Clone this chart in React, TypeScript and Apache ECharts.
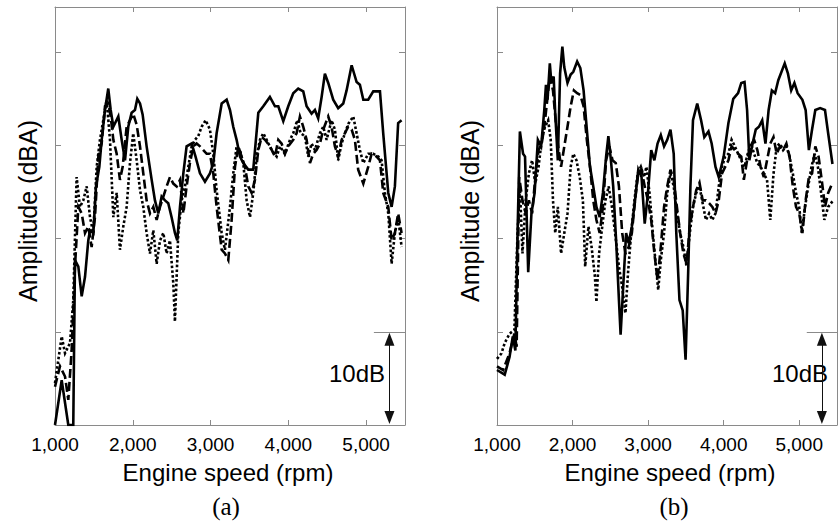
import React, { useEffect, useRef } from "react";
import * as echarts from "echarts";

// ---------- Panel (a) ----------
const aSolidRpm = [1000,1086,1171,1235,1257,1300,1343,1386,1428,1450,1493,1527,1570,1600,1643,1685,1716,1750,1814,1857,1900,1942,1985,2028,2058,2093,2127,2178,2243,2285,2328,2371,2414,2456,2499,2542,2572,2607,2650,2692,2757,2807,2864,2928,2992,3035,3078,3143,3207,3250,3292,3335,3378,3421,3485,3549,3614,3678,3763,3828,3871,3935,3999,4063,4127,4192,4235,4299,4342,4384,4428,4470,4513,4577,4641,4706,4749,4814,4878,4920,4964,5027,5092,5178,5220,5285,5328,5370,5412,5456];
const aSolidDb = [0,4.8,0,0,17.7,17.0,13.8,15.9,19.8,20.9,20.6,25.6,27.7,30.6,33.8,36.1,33.8,32.0,33.1,30.6,28.4,32.0,33.5,33.8,35.0,34.5,33.3,29.9,26.3,24.1,22.7,24.5,24.1,23.8,22.3,20.6,19.8,23.4,27.0,29.9,30.2,28.8,27.0,26.1,27.0,28.1,31.3,34.5,34.9,33.8,32.0,30.6,28.8,28.1,27.4,27.4,33.5,34.2,35.2,34.2,34.2,32.6,34.2,35.6,36.1,35.8,34.2,33.4,33.8,32.9,35.2,37.7,36.7,34.9,34.0,34.5,35.9,38.6,36.8,36.5,34.9,34.9,35.8,35.8,31.3,24.9,23.4,25.6,32.4,32.7];

const aDashRpm = [1000,1064,1129,1171,1214,1257,1300,1343,1386,1428,1471,1514,1557,1600,1643,1685,1716,1750,1793,1835,1870,1921,1964,2006,2050,2093,2135,2178,2221,2264,2307,2350,2393,2435,2478,2521,2564,2607,2650,2692,2735,2778,2821,2864,2907,2950,2992,3035,3078,3143,3185,3228,3271,3314,3357,3400,3442,3485,3528,3571,3614,3657,3700,3764,3828,3871,3914,3956,3999,4063,4106,4149,4192,4235,4278,4320,4363,4406,4449,4513,4556,4599,4641,4685,4727,4770,4814,4856,4898,4964,5027,5071,5135,5178,5220,5285,5328,5370,5412,5456];
const aDashDb = [4.1,6.3,5.2,2.7,8.0,17.0,23.4,22.7,20.6,21.3,19.1,22.3,28.8,30.2,34.2,34.5,33.1,30.6,29.1,26.3,27.7,32.0,32.7,33.4,32.2,29.9,27.0,24.1,22.7,23.4,22.0,23.4,24.5,25.6,26.6,25.9,25.6,26.3,22.7,25.6,28.1,29.9,30.2,29.9,29.5,29.1,29.1,27.0,23.4,18.8,18.4,17.7,22.0,27.7,29.9,28.8,27.7,25.6,24.9,26.3,29.5,30.9,30.6,29.9,28.8,30.6,30.2,29.1,29.9,30.6,31.3,33.1,32.0,30.6,28.1,29.1,29.5,30.2,31.7,33.1,32.0,29.9,28.8,30.6,31.3,32.0,31.7,30.6,27.4,25.9,27.7,29.1,28.8,28.4,24.9,23.4,19.8,20.6,22.7,20.6];

const aDotRpm = [1000,1086,1129,1193,1235,1278,1321,1364,1407,1450,1492,1536,1578,1621,1664,1707,1750,1793,1835,1878,1921,1964,2006,2050,2093,2135,2178,2221,2264,2307,2350,2393,2435,2478,2521,2542,2585,2628,2671,2714,2757,2800,2842,2885,2937,2992,3035,3078,3143,3185,3250,3292,3335,3378,3421,3464,3507,3549,3592,3635,3678,3721,3785,3850,3892,3956,4021,4063,4115,4158,4213,4256,4299,4342,4406,4449,4492,4556,4599,4641,4685,4727,4770,4835,4878,4920,4964,5027,5092,5157,5199,5242,5285,5328,5370,5412,5456];
const aDotDb = [4.5,9.5,7.7,8.8,13.4,26.6,23.4,24.1,25.6,22.3,20.6,27.7,30.6,32.7,34.9,30.6,22.3,24.9,18.8,21.3,23.4,28.1,31.3,28.4,25.2,23.4,20.6,18.4,20.9,17.3,19.8,20.6,18.4,19.8,15.2,11.1,20.6,24.1,25.6,27.7,29.9,30.6,31.0,32.0,32.7,31.7,29.1,25.2,20.6,18.8,23.4,27.0,29.9,29.5,28.1,24.1,22.3,24.9,28.8,30.6,31.3,30.6,29.5,28.8,29.9,29.1,30.6,31.3,32.7,31.3,31.0,28.8,30.2,29.5,31.3,32.0,30.6,32.7,31.7,28.4,30.2,31.3,32.3,33.1,31.3,29.5,28.1,29.1,29.1,28.8,28.4,24.9,22.7,17.3,20.6,22.3,19.1];

// ---------- Panel (b) ----------
const bSolidRpm = [1000,1102,1166,1209,1243,1272,1303,1345,1371,1413,1456,1498,1541,1584,1626,1648,1669,1699,1720,1750,1771,1805,1835,1865,1890,1933,1975,2010,2061,2103,2146,2189,2231,2274,2316,2359,2402,2444,2474,2508,2538,2581,2614,2636,2670,2709,2742,2785,2827,2870,2913,2955,2998,3041,3083,3125,3168,3211,3253,3296,3339,3373,3415,3458,3496,3530,3560,3594,3650,3701,3744,3799,3841,3892,3935,4000,4063,4127,4191,4233,4276,4310,4340,4383,4425,4467,4510,4553,4595,4638,4681,4723,4808,4851,4894,4936,4979,5042,5085,5128,5170,5213,5277,5341,5383,5440];
const bSolidDb = [5.9,5.4,7.3,9.5,8.0,20.6,31.5,29.1,28.8,16.4,22.7,24.9,30.6,29.9,33.8,36.5,34.9,38.8,36.7,37.4,33.4,28.4,37.7,40.6,38.4,36.7,37.6,37.9,39.0,38.3,35.9,31.7,27.7,25.6,23.4,22.3,24.9,28.8,31.0,28.4,25.6,19.1,13.4,9.7,14.8,20.6,19.5,21.3,24.1,27.4,26.6,21.6,24.9,29.5,28.4,30.2,31.1,29.9,30.6,31.7,29.1,20.6,13.4,12.3,7.0,16.3,25.6,32.7,34.5,32.7,30.9,31.5,30.2,27.7,26.6,28.8,32.4,35.0,35.6,36.7,36.8,33.8,28.4,30.2,31.7,32.0,32.7,30.2,33.8,35.9,35.6,37.0,38.8,37.7,35.9,36.7,35.6,34.9,33.8,29.5,31.7,33.8,34.0,33.8,31.3,28.0];

const bDashRpm = [1000,1081,1166,1230,1260,1294,1337,1380,1422,1465,1507,1550,1592,1626,1656,1699,1741,1776,1805,1848,1891,1933,1975,2018,2061,2103,2146,2189,2231,2274,2316,2359,2402,2444,2487,2529,2572,2614,2657,2700,2742,2785,2827,2870,2913,2955,2998,3041,3083,3125,3168,3211,3253,3296,3339,3381,3424,3467,3509,3552,3594,3637,3680,3722,3765,3807,3850,3892,3935,3978,4020,4063,4105,4148,4191,4233,4267,4310,4352,4403,4446,4489,4531,4574,4617,4659,4702,4745,4787,4830,4872,4915,4958,5000,5042,5085,5128,5170,5213,5256,5298,5341,5383,5440];
const bDashDb = [6.3,5.9,7.7,9.8,8.4,26.6,24.1,22.7,24.1,22.7,26.6,29.5,30.2,32.0,34.2,37.4,35.9,32.7,30.2,27.7,29.9,32.0,34.2,35.9,35.6,35.4,34.2,30.6,27.7,24.1,22.0,20.6,23.4,28.4,29.9,28.4,28.1,25.6,20.6,18.4,19.1,20.6,24.1,27.0,27.4,25.6,24.1,22.0,18.4,15.6,19.1,23.4,25.6,27.4,26.3,23.4,20.6,18.4,17.3,21.3,23.4,25.2,26.0,24.1,24.1,23.8,23.4,22.7,24.1,27.0,27.7,28.4,29.9,29.5,29.1,28.8,26.3,28.4,29.9,30.6,29.5,27.7,26.6,28.4,30.2,30.9,29.1,29.9,29.5,30.2,28.8,25.6,23.4,22.7,20.6,24.1,26.6,27.0,29.9,28.8,26.3,23.4,24.9,26.0];

const bDotRpm = [1000,1060,1102,1166,1230,1272,1303,1337,1380,1422,1465,1507,1550,1592,1635,1677,1711,1741,1771,1805,1848,1891,1933,1975,2010,2052,2095,2137,2167,2210,2252,2295,2316,2351,2393,2435,2478,2521,2563,2614,2657,2700,2734,2776,2819,2862,2904,2947,2977,3019,3062,3104,3134,3168,3211,3253,3296,3339,3381,3424,3467,3509,3552,3594,3637,3680,3722,3765,3807,3850,3892,3935,3978,4020,4063,4105,4148,4191,4233,4276,4318,4361,4403,4446,4489,4531,4574,4617,4659,4702,4745,4787,4830,4872,4915,4958,5000,5034,5077,5119,5162,5204,5247,5290,5332,5383,5440];
const bDotDb = [7.1,7.7,8.8,9.8,10.2,20.6,25.6,18.4,24.1,27.0,28.4,25.9,27.7,30.6,32.0,32.7,30.6,24.1,20.6,23.4,18.4,20.6,22.7,27.7,29.1,28.4,26.6,24.1,17.0,21.3,19.1,16.0,13.2,18.4,21.3,24.1,25.6,23.4,20.6,17.0,14.8,12.0,16.3,20.6,24.1,27.0,27.7,26.6,27.7,24.9,20.6,17.0,14.5,17.7,20.6,24.9,27.0,25.6,22.7,20.6,19.1,17.0,20.6,23.4,24.9,25.6,23.8,22.0,22.7,22.0,22.7,25.6,27.7,28.8,29.1,30.6,29.9,29.1,28.4,27.7,29.1,30.2,29.1,28.1,27.7,27.0,26.3,22.0,26.9,29.9,30.2,29.5,29.9,28.8,27.0,24.9,23.4,20.6,23.4,25.6,27.7,29.1,27.7,24.9,22.0,23.4,24.0];

// axis settings (values)
const xMin = 1000;
const xMax = 5500;
const xStep = 1000;
const yMin = 0;
const yMax = 44.85;
const yStep = 10;
const scaleBarTop = 10; // dB
const scaleBarX = 5300;
const scaleBarLeft = 5100;
const xTitle = "Engine speed (rpm)";
const yTitle = "Amplitude (dBA)";
const panelLabels = ["(a)", "(b)"];
const scaleText = "10dB";

const FRAME = "#8a8a8a";
const SANS = '"Liberation Sans", Arial, sans-serif';

function fmt(v: number) {
  if (v % 1000 !== 0) return "";
  return v.toLocaleString("en-US");
}

function makeX(gridIndex: number, position: string, labels: boolean) {
  return {
    type: "value",
    gridIndex,
    position,
    min: xMin,
    max: xMax,
    interval: xStep,
    axisLine: { show: true, onZero: false, lineStyle: { color: FRAME, width: 1 } },
    axisTick: { show: true, inside: true, length: 5, lineStyle: { color: FRAME } },
    axisLabel: labels
      ? { show: true, formatter: fmt, fontSize: 19, color: "#000", fontFamily: SANS, margin: 10 }
      : { show: false },
    splitLine: { show: false },
  };
}

function makeY(gridIndex: number, position: string) {
  return {
    type: "value",
    gridIndex,
    position,
    min: yMin,
    max: yMax,
    interval: yStep,
    axisLine: { show: true, onZero: false, lineStyle: { color: FRAME, width: 1 } },
    axisTick: { show: true, inside: true, length: 6, lineStyle: { color: FRAME } },
    axisLabel: { show: false },
    splitLine: { show: false },
  };
}

function makeLine(rpm: number[], db: number[], type: any, xi: number, yi: number, extra: any = {}) {
  return {
    type: "line",
    xAxisIndex: xi,
    yAxisIndex: yi,
    data: rpm.map((r, i) => [r, db[i]]),
    showSymbol: false,
    symbol: "none",
    clip: true,
    lineStyle: { color: "#000", width: 2.6, type, join: "miter" },
    ...extra,
  };
}

function scaleBar() {
  return {
    silent: true,
    symbol: ["triangle", "triangle"],
    symbolSize: [10, 13],
    label: { show: false },
    lineStyle: { color: "#111", width: 1, type: "solid" },
    emphasis: { disabled: true },
    data: [
      [{ coord: [scaleBarX, scaleBarTop - 0.8] }, { coord: [scaleBarX, yMin + 0.8] }],
      [
        { coord: [scaleBarLeft, scaleBarTop], symbol: "none", lineStyle: { color: FRAME, width: 1 } },
        { coord: [xMax, scaleBarTop], symbol: "none" },
      ],
    ],
  };
}

export default function App() {
  const ref = useRef<HTMLDivElement>(null);
  useEffect(() => {
    if (!ref.current) return;
    const chart = echarts.init(ref.current, undefined, { renderer: "svg" });
    const dashed = [9, 4];
    const dotted = [2.6, 2.2];
    chart.setOption({
      animation: false,
      backgroundColor: "#fff",
      grid: [
        { left: 55, top: 7, width: 350, height: 418 },
        { left: 497, top: 7, width: 352, height: 418 },
      ],
      xAxis: [makeX(0, "bottom", true), makeX(0, "top", false), makeX(1, "bottom", true), makeX(1, "top", false)],
      yAxis: [makeY(0, "left"), makeY(0, "right"), makeY(1, "left"), makeY(1, "right")],
      series: [
        makeLine(aDotRpm, aDotDb, dotted, 0, 0),
        makeLine(aDashRpm, aDashDb, dashed, 0, 0),
        makeLine(aSolidRpm, aSolidDb, "solid", 0, 0, { markLine: scaleBar() }),
        makeLine(bDotRpm, bDotDb, dotted, 2, 2),
        makeLine(bDashRpm, bDashDb, dashed, 2, 2),
        makeLine(bSolidRpm, bSolidDb, "solid", 2, 2, { markLine: scaleBar() }),
      ],
      graphic: [
        { type: "text", x: 28, y: 211, rotation: Math.PI / 2, style: { text: yTitle, font: `25px ${SANS}`, fill: "#000", align: "center", verticalAlign: "middle" } },
        { type: "text", x: 470, y: 211, rotation: Math.PI / 2, style: { text: yTitle, font: `25px ${SANS}`, fill: "#000", align: "center", verticalAlign: "middle" } },
        { type: "text", x: 228, y: 472, style: { text: xTitle, font: `24px ${SANS}`, fill: "#000", align: "center", verticalAlign: "middle" } },
        { type: "text", x: 670, y: 472, style: { text: xTitle, font: `24px ${SANS}`, fill: "#000", align: "center", verticalAlign: "middle" } },
        { type: "text", x: 226, y: 506, style: { text: panelLabels[0], font: `25px "Liberation Serif", "Times New Roman", serif`, fill: "#000", align: "center", verticalAlign: "middle" } },
        { type: "text", x: 674, y: 506, style: { text: panelLabels[1], font: `25px "Liberation Serif", "Times New Roman", serif`, fill: "#000", align: "center", verticalAlign: "middle" } },
        { type: "text", x: 385, y: 373, style: { text: scaleText, font: `24px ${SANS}`, fill: "#000", align: "right", verticalAlign: "middle" } },
        { type: "text", x: 828, y: 373, style: { text: scaleText, font: `24px ${SANS}`, fill: "#000", align: "right", verticalAlign: "middle" } },
      ],
    });
    return () => chart.dispose();
  }, []);
  return <div ref={ref} style={{ position: "absolute", left: 0, top: 0, width: 840, height: 526 }} />;
}
